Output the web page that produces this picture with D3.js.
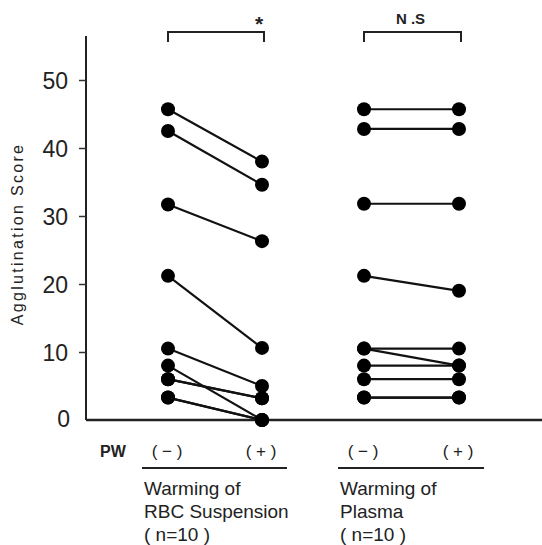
<!DOCTYPE html>
<html><head><meta charset="utf-8">
<script src="https://cdn.jsdelivr.net/npm/d3@7"></script>
<style>body{margin:0;background:#fff}svg{display:block}text{font-family:Arial,"Liberation Sans",sans-serif;fill:#222}</style>
</head><body>
<script>
const yTicks = [0, 10, 20, 30, 40, 50];
const groups = ["RBC", "Plasma"];
const conditions = ["( − )", "( + )"];
const rbcBefore = [45.7, 42.5, 31.7, 21.2, 10.5, 8.0, 6.0, 3.3, 3.3, 6.0];
const rbcAfter  = [38.0, 34.6, 26.3, 10.6, 5.0, 0.0, 3.2, 0.0, 0.0, 3.2];
const plasmaBefore = [45.7, 42.8, 31.8, 21.2, 10.5, 10.5, 8.0, 6.0, 3.3, 3.3];
const plasmaAfter  = [45.7, 42.8, 31.8, 19.0, 10.5, 8.0, 8.0, 6.0, 3.3, 3.3];
const groupLabels = [["Warming of", "RBC Suspension", "( n=10 )"], ["Warming of", "Plasma", "( n=10 )"]];
const sigLabels = ["*", "N .S"];

const W = 542, H = 545;
const svg = d3.select("body").append("svg").attr("width", W).attr("height", H);
const y = d3.scaleLinear().domain([0, 50]).range([420, 80]);
const xPos = {"RBC-0":168, "RBC-1":262, "Plasma-0":364, "Plasma-1":459};
const xs = d3.scaleOrdinal().domain(Object.keys(xPos)).range(Object.values(xPos));

// axes
svg.append("line").attr("x1",86).attr("x2",86).attr("y1",36).attr("y2",420).attr("stroke","#222").attr("stroke-width",2);
svg.append("line").attr("x1",86).attr("x2",542).attr("y1",420).attr("y2",420).attr("stroke","#222").attr("stroke-width",2.5);
const yAxis = d3.axisLeft(y).tickValues(yTicks).tickSize(7).tickSizeOuter(0);
const ga = svg.append("g").attr("transform","translate(86,0)").call(yAxis);
ga.select(".domain").remove();
ga.selectAll(".tick line").attr("stroke","#333").attr("stroke-width",1.5);
ga.selectAll(".tick text").attr("x",-18).attr("dy","0.36em").style("font-size","23px").attr("fill","#333");
ga.selectAll(".tick").filter(d => d===0).select("line").remove();
ga.selectAll(".tick").filter(d => d===0).select("text").attr("x",-16).attr("dy","0.3em");

svg.append("text").attr("transform","translate(23,234) rotate(-90)").attr("text-anchor","middle")
  .style("font-size","16px").style("letter-spacing","2.3px").attr("fill","#222").text("Agglutination Score");

const data = [
  {g:"RBC", b:rbcBefore, a:rbcAfter},
  {g:"Plasma", b:plasmaBefore, a:plasmaAfter}
];
data.forEach(d => {
  const x0 = xs(d.g+"-0"), x1 = xs(d.g+"-1");
  const pairs = d.b.map((v,i)=>[v, d.a[i]]);
  svg.append("g").selectAll("line").data(pairs).join("line")
    .attr("x1",x0).attr("x2",x1).attr("y1",p=>y(p[0])).attr("y2",p=>y(p[1]))
    .attr("stroke","#111").attr("stroke-width",2.2);
  svg.append("g").selectAll("circle").data(d.b).join("circle")
    .attr("cx",x0).attr("cy",v=>y(v)).attr("r",7).attr("fill","#000");
  svg.append("g").selectAll("circle").data(d.a).join("circle")
    .attr("cx",x1).attr("cy",v=>y(v)).attr("r",7).attr("fill","#000");
});

// significance brackets
groups.forEach((g,i) => {
  const x0 = xs(g+"-0"), x1 = xs(g+"-1");
  svg.append("path").attr("d",`M${x0},42V32H${x1+2}V42`).attr("fill","none").attr("stroke","#222").attr("stroke-width",2);
  if (i===0) {
    svg.append("text").attr("x",x1-3).attr("y",31).attr("text-anchor","middle").style("font-size","21px").style("font-weight","bold").attr("fill","#111").text(sigLabels[i]);
  } else {
    svg.append("text").attr("x",(x0+x1)/2-1).attr("y",24).attr("text-anchor","middle").style("font-size","15px").style("font-weight","bold").attr("fill","#444").text(sigLabels[i]);
  }
});

// bottom labels
svg.append("text").attr("x",113).attr("y",457).attr("text-anchor","middle").style("font-size","16px").style("font-weight","bold").attr("fill","#333").text("PW");
groups.forEach((g,i) => {
  conditions.forEach((c,j) => {
    svg.append("text").attr("x",xs(g+"-"+j)-1).attr("y",457).attr("text-anchor","middle").style("font-size","17px").attr("fill","#555").text(c);
  });
  const x0 = xs(g+"-0"), x1 = xs(g+"-1");
  svg.append("line").attr("x1",x0-26).attr("x2",x1+25).attr("y1",468).attr("y2",468).attr("stroke","#222").attr("stroke-width",2);
  groupLabels[i].forEach((t,k) => {
    svg.append("text").attr("x",x0-24).attr("y",495+k*23).style("font-size","19px").attr("fill","#222").text(t);
  });
});
</script>
</body></html>
